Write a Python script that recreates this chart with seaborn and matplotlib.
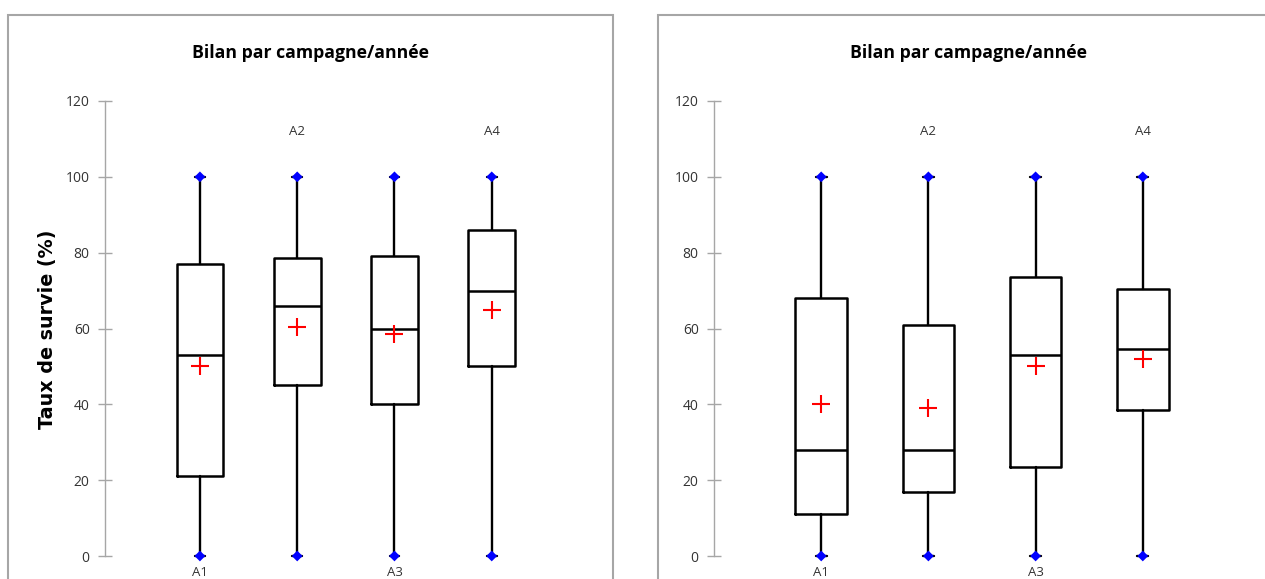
import matplotlib
matplotlib.use("Agg")
import matplotlib.pyplot as plt
import seaborn as sns
import pandas as pd
from matplotlib.patches import Rectangle

# Données (taux de survie, %)
campagnes = ["A1", "A2", "A3", "A4"]

g_min = [0, 0, 0, 0]
g_q1 = [21, 45, 40, 50]
g_med = [53, 66, 60, 70]
g_q3 = [77, 78.5, 79, 86]
g_max = [100, 100, 100, 100]
g_mean = [50, 60.5, 58.5, 65]

d_min = [0, 0, 0, 0]
d_q1 = [11, 17, 23.5, 38.5]
d_med = [28, 28, 53, 54.5]
d_q3 = [68, 61, 73.5, 70.5]
d_max = [100, 100, 100, 100]
d_mean = [40, 39, 50, 52]

sns.set_theme(style="white")
plt.rcParams["font.family"] = ["Open Sans", "DejaVu Sans"]

W, H = 1265, 579
fig = plt.figure(figsize=(W / 100, H / 100), dpi=100)

gris = "#a6a6a6"
texte = "#333333"

# cadres gris des deux graphiques
fig.patches.append(Rectangle((8 / W, -0.1), 605 / W, 1.1 - 15 / H, transform=fig.transFigure,
                             fill=False, edgecolor=gris, lw=1.5))
fig.patches.append(Rectangle((658 / W, -0.1), 700 / W, 1.1 - 15 / H, transform=fig.transFigure,
                             fill=False, edgecolor=gris, lw=1.5))

y_bas = -(579 - 556) / (455 / 120)


def panneau(rect, xlim, mins, q1s, meds, q3s, maxs, means, titre_x):
    ax = fig.add_axes(rect)
    stats = []
    for i in range(len(campagnes)):
        stats.append(dict(whislo=mins[i], q1=q1s[i], med=meds[i], q3=q3s[i],
                          whishi=maxs[i], fliers=[], label=campagnes[i]))
    pos = list(range(1, len(campagnes) + 1))
    ax.bxp(stats, positions=pos, widths=0.48, showfliers=False,
           boxprops=dict(color="black", lw=1.8),
           medianprops=dict(color="black", lw=1.8),
           whiskerprops=dict(color="black", lw=1.7),
           capprops=dict(color="black", lw=1.7), capwidths=0.1)
    pts = pd.DataFrame({"x": pos * 2, "y": list(mins) + list(maxs)})
    sns.scatterplot(data=pts, x="x", y="y", marker="D", color="#0000ff", s=30,
                    edgecolor="none", ax=ax, zorder=5, clip_on=False)
    moy = pd.DataFrame({"x": pos, "y": means})
    sns.scatterplot(data=moy, x="x", y="y", marker="+", color="#ff0000", s=180,
                    linewidth=1.5, ax=ax, zorder=6)
    for i, lab in enumerate(campagnes):
        if i % 2 == 0:
            ax.text(pos[i], -4.3, lab, ha="center", va="center", fontsize=9.5,
                    color=texte, clip_on=False)
        else:
            ax.text(pos[i], 112, lab, ha="center", va="center", fontsize=9.5,
                    color=texte)
    ax.set_xlim(*xlim)
    ax.set_ylim(y_bas, 120)
    ax.set_yticks(range(0, 121, 20))
    ax.set_xticks([])
    ax.set_xlabel("")
    ax.set_ylabel("")
    for s in ["top", "right", "bottom"]:
        ax.spines[s].set_visible(False)
    ax.spines["left"].set_bounds(0, 120)
    ax.spines["left"].set_color(gris)
    ax.spines["left"].set_linewidth(1.0)
    ax.tick_params(axis="y", direction="inout", length=10, width=1.0, color=gris,
                   labelcolor=texte, labelsize=10, left=True, pad=6)
    ax.patch.set_alpha(0)
    fig.text(titre_x / W, 1 - 53 / H, "Bilan par campagne/année", ha="center",
             va="center", fontsize=12.7, fontweight="bold", color="black")
    return ax


top = 1 - 101 / H
panneau([105 / W, 0, (589 - 105) / W, top], (0.024, 5.0),
        g_min, g_q1, g_med, g_q3, g_max, g_mean, 310)
panneau([714 / W, 0, (1250 - 714) / W, top], (0.0, 5.0),
        d_min, d_q1, d_med, d_q3, d_max, d_mean, 968)

fig.text(48 / W, 1 - 329 / H, "Taux de survie (%)", rotation=90, ha="center",
         va="center", fontsize=13.8, fontweight="bold", color="black",
         family=["DejaVu Sans"])

fig.savefig("out.png", dpi=100)
